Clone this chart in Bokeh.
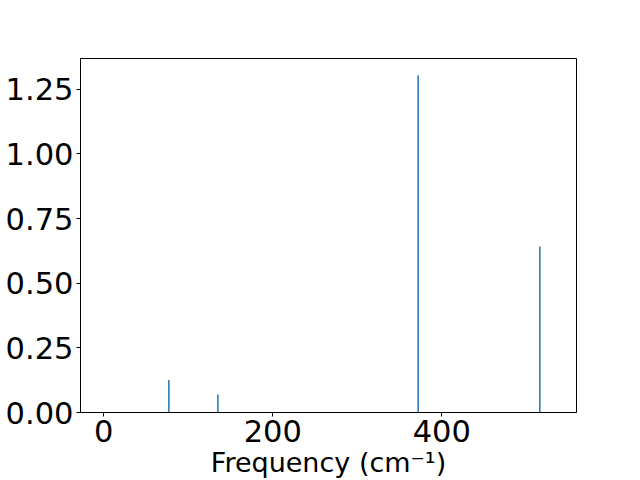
from bokeh.plotting import figure
from bokeh.models import FixedTicker, PrintfTickFormatter, Range1d
from bokeh.embed import file_html
from bokeh.resources import INLINE

frequencies = [77, 135, 372, 516]
intensities = [0.126, 0.070, 1.304, 0.642]
x_ticks = [0, 200, 400]
y_ticks = [0.0, 0.25, 0.5, 0.75, 1.0, 1.25]
x_label = "Frequency (cm\u207b\u00b9)"

FONT = "DejaVu Sans"
FS = "30.5px"

p = figure(width=640, height=480, output_backend="svg", toolbar_location=None,
           x_range=Range1d(-27.6, 559.4), y_range=Range1d(0, 1.369),
           min_border_left=80, min_border_right=64, min_border_top=58, min_border_bottom=20)
p.background_fill_color = "white"
p.border_fill_color = "white"
p.outline_line_color = "black"
p.outline_line_width = 1
p.xgrid.visible = False
p.ygrid.visible = False

p.vbar(x=frequencies, top=intensities, bottom=0, width=1.8, color="#1f77b4", line_width=0)

for ax in (p.xaxis[0], p.yaxis[0]):
    ax.major_label_text_font = FONT
    ax.major_label_text_font_size = FS
    ax.major_label_text_color = "black"
    ax.axis_line_color = "black"
    ax.major_tick_line_color = "black"
    ax.major_tick_out = 4
    ax.major_tick_in = 0
    ax.minor_tick_line_color = None
    ax.major_label_standoff = 3

p.xaxis[0].ticker = FixedTicker(ticks=x_ticks)
p.yaxis[0].ticker = FixedTicker(ticks=y_ticks)
p.yaxis[0].formatter = PrintfTickFormatter(format="%.2f")

p.xaxis[0].axis_label = x_label
p.xaxis[0].axis_label_text_font = FONT
p.xaxis[0].axis_label_text_font_size = "27px"
p.xaxis[0].axis_label_text_font_style = "normal"
p.xaxis[0].axis_label_text_color = "black"
p.xaxis[0].axis_label_standoff = 2

open("out.html", "w").write(file_html(p, INLINE))
